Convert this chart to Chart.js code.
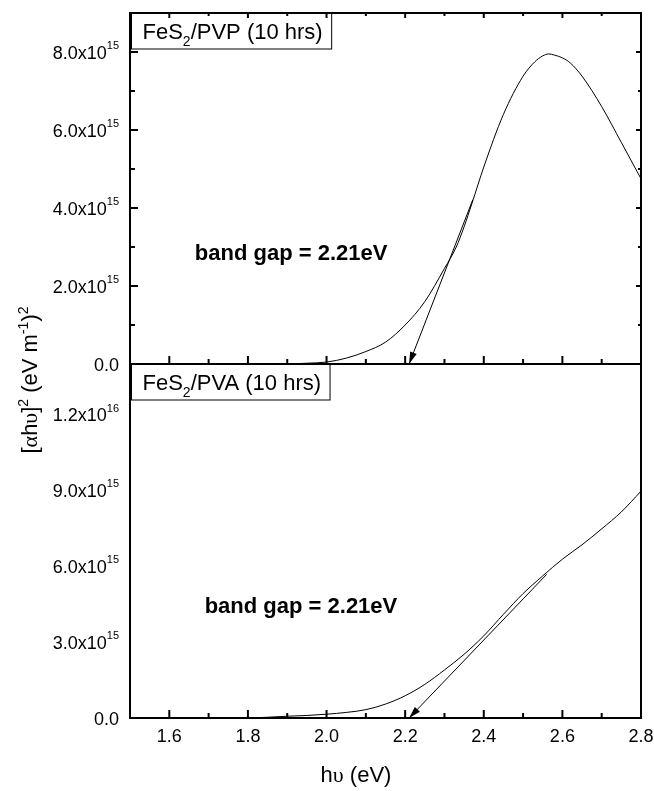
<!DOCTYPE html>
<html>
<head>
<meta charset="utf-8">
<script src="https://cdn.jsdelivr.net/npm/chart.js@4"></script>
<style>
  html, body { margin: 0; padding: 0; background: #fff; }
</style>
</head>
<body>
<canvas id="bandGap" width="654" height="791"></canvas>
<script>
// FeS2/PVP (10 hrs)
const energiaPVP = [1.90, 1.95, 2.00, 2.05, 2.10, 2.15, 2.20, 2.25, 2.30, 2.33, 2.35, 2.37, 2.40, 2.45, 2.50, 2.53, 2.55, 2.565, 2.58, 2.60, 2.62, 2.65, 2.70, 2.75, 2.80];
const alfaPVP = [0, 0.02e15, 0.05e15, 0.15e15, 0.32e15, 0.56e15, 1.00e15, 1.60e15, 2.45e15, 3.00e15, 3.52e15, 4.12e15, 5.05e15, 6.40e15, 7.38e15, 7.75e15, 7.90e15, 7.95e15, 7.92e15, 7.85e15, 7.72e15, 7.38e15, 6.60e15, 5.68e15, 4.75e15];

// FeS2/PVA (10 hrs)
const energiaPVA = [1.80, 1.85, 1.90, 1.95, 2.00, 2.05, 2.10, 2.15, 2.20, 2.25, 2.30, 2.35, 2.40, 2.45, 2.50, 2.55, 2.60, 2.65, 2.70, 2.75, 2.80];
const alfaPVA = [0, 0.03e15, 0.07e15, 0.10e15, 0.15e15, 0.22e15, 0.33e15, 0.55e15, 0.88e15, 1.33e15, 1.90e15, 2.52e15, 3.25e15, 4.10e15, 4.92e15, 5.62e15, 6.28e15, 6.85e15, 7.48e15, 8.15e15, 8.97e15];

// retas tangentes (extrapolacao ate o eixo)
const tangentePVP_x = [2.372, 2.21];
const tangentePVP_y = [4.21e15, 0];
const tangentePVA_x = [2.56, 2.21];
const tangentePVA_y = [5.68e15, 0];

// marcas com rotulo
const marcasX = [1.6, 1.8, 2.0, 2.2, 2.4, 2.6, 2.8];
const marcasPVP = [0, 2e15, 4e15, 6e15, 8e15];
const marcasPVA = [0, 3e15, 6e15, 9e15, 1.2e16];

const textoGap = 'band gap = 2.21eV';
const posGapPVP = [1.665, 2.66e15];
const posGapPVA = [1.69, 4.17e15];

const SANS = '"Liberation Sans", Arial, sans-serif';
const SERIF = '"Liberation Serif", "Times New Roman", serif';

function pontos(xs, ys) {
  return xs.map((x, i) => ({ x: x, y: ys[i] }));
}

function quase(a, b, tol) {
  return Math.abs(a - b) <= tol;
}

function naLista(v, lista) {
  return lista.some(m => quase(v, m, Math.abs(m) * 1e-6 + 1e-9));
}

// desenha pedacos de texto com fontes / deslocamentos diferentes
function larguraRica(ctx, partes) {
  let w = 0;
  for (const p of partes) { ctx.font = p.f; w += ctx.measureText(p.t).width; }
  return w;
}
function desenharRico(ctx, partes, x, y) {
  let cx = x;
  for (const p of partes) {
    ctx.font = p.f;
    ctx.fillText(p.t, cx, y + (p.dy || 0));
    cx += ctx.measureText(p.t).width;
  }
}

function rotuloY(v) {
  if (v === 0) return [{ t: '0.0', f: '18px ' + SANS }];
  const e = Math.floor(Math.log10(v) + 1e-9);
  const m = (v / Math.pow(10, e)).toFixed(1);
  return [
    { t: m + 'x10', f: '18px ' + SANS },
    { t: String(e), f: '11px ' + SANS, dy: -9.5 }
  ];
}

function seta(ctx, xScale, yScale, xs, ys) {
  const n = xs.length;
  const x0 = xScale.getPixelForValue(xs[n - 2]), y0 = yScale.getPixelForValue(ys[n - 2]);
  const x1 = xScale.getPixelForValue(xs[n - 1]), y1 = yScale.getPixelForValue(ys[n - 1]);
  const ang = Math.atan2(y1 - y0, x1 - x0);
  const L = 12, W = 3.5;
  const bx = x1 - L * Math.cos(ang), by = y1 - L * Math.sin(ang);
  ctx.beginPath();
  ctx.moveTo(x1, y1);
  ctx.lineTo(bx + W * Math.sin(ang), by - W * Math.cos(ang));
  ctx.lineTo(bx - W * Math.sin(ang), by + W * Math.cos(ang));
  ctx.closePath();
  ctx.fill();
}

function linha(ctx, x0, y0, x1, y1) {
  ctx.beginPath();
  ctx.moveTo(x0, y0);
  ctx.lineTo(x1, y1);
  ctx.stroke();
}

function caixaLegenda(ctx, area, topo, nome) {
  const partes = [
    { t: 'FeS', f: '22px ' + SANS },
    { t: '2', f: '14px ' + SANS, dy: 7 },
    { t: '/' + nome + ' (10 hrs)', f: '22px ' + SANS }
  ];
  const x = area.left + 12.5;
  const w = larguraRica(ctx, partes);
  ctx.fillStyle = '#fff';
  ctx.fillRect(area.left + 1.5, topo, x + w + 9 - area.left - 1.5, 36);
  ctx.fillStyle = '#000';
  ctx.lineWidth = 1;
  ctx.strokeRect(area.left + 1.5, topo + 0.5, x + w + 9 - area.left - 1.5, 35.5);
  ctx.textAlign = 'left';
  ctx.textBaseline = 'alphabetic';
  desenharRico(ctx, partes, x, topo + 25.5);
}

// eixos, marcas, rotulos e anotacoes
const extras = {
  id: 'extras',
  afterDatasetsDraw(chart) {
    const { ctx, chartArea: area, scales } = chart;
    const x = scales.x, yTop = scales.yPVP, yBot = scales.yPVA;
    const meio = yTop.bottom;
    ctx.save();
    ctx.strokeStyle = '#000';
    ctx.fillStyle = '#000';

    // setas das tangentes
    seta(ctx, x, yTop, tangentePVP_x, tangentePVP_y);
    seta(ctx, x, yBot, tangentePVA_x, tangentePVA_y);

    // caixas com o nome da amostra
    caixaLegenda(ctx, area, area.top, 'PVP');
    caixaLegenda(ctx, area, meio, 'PVA');

    // moldura
    ctx.lineWidth = 2;
    ctx.strokeRect(area.left, area.top, area.right - area.left, area.bottom - area.top);
    linha(ctx, area.left, meio, area.right, meio);

    // marcas do eixo x
    for (const t of x.ticks) {
      const px = x.getPixelForValue(t.value);
      const maior = naLista(t.value, marcasX);
      const len = maior ? 8 : 5;
      linha(ctx, px, meio, px, meio - len);
      linha(ctx, px, area.bottom, px, area.bottom - len);
      linha(ctx, px, area.top, px, area.top + (maior ? 5 : 3));
    }

    // marcas dos eixos y
    const paineis = [[yTop, marcasPVP, 1e15], [yBot, marcasPVA, 1.5e15]];
    ctx.textAlign = 'left';
    ctx.textBaseline = 'alphabetic';
    for (const [s, marcas, passo] of paineis) {
      for (const t of s.ticks) {
        const r = t.value / passo;
        if (!quase(r, Math.round(r), 1e-6)) continue;
        const py = s.getPixelForValue(t.value);
        const maior = naLista(t.value, marcas);
        linha(ctx, area.left, py, area.left + (maior ? 8 : 5), py);
        linha(ctx, area.right, py, area.right - (maior ? 5 : 3), py);
      }
      for (const v of marcas) {
        const py = s.getPixelForValue(v);
        const partes = rotuloY(v);
        const w = larguraRica(ctx, partes);
        desenharRico(ctx, partes, 119 - w, py + 6.5);
      }
    }

    // texto do band gap
    ctx.font = 'bold 22px ' + SANS;
    ctx.fillText(textoGap, x.getPixelForValue(posGapPVP[0]), yTop.getPixelForValue(posGapPVP[1]));
    ctx.fillText(textoGap, x.getPixelForValue(posGapPVA[0]), yBot.getPixelForValue(posGapPVA[1]));

    // titulo do eixo x
    const tituloX = [
      { t: 'h', f: '22px ' + SANS },
      { t: 'υ', f: '22px ' + SERIF },
      { t: ' (eV)', f: '22px ' + SANS }
    ];
    desenharRico(ctx, tituloX, 356 - larguraRica(ctx, tituloX) / 2, 782);

    // titulo do eixo y
    const tituloY = [
      { t: '[', f: '22px ' + SANS },
      { t: 'α', f: '22px ' + SERIF },
      { t: 'h', f: '22px ' + SANS },
      { t: 'υ', f: '22px ' + SERIF },
      { t: ']', f: '22px ' + SANS },
      { t: '2', f: '14px ' + SANS, dy: -9 },
      { t: ' (eV m', f: '22px ' + SANS },
      { t: '-1', f: '14px ' + SANS, dy: -9 },
      { t: ')', f: '22px ' + SANS },
      { t: '2', f: '14px ' + SANS, dy: -9 }
    ];
    ctx.translate(37, 380);
    ctx.rotate(-Math.PI / 2);
    desenharRico(ctx, tituloY, -larguraRica(ctx, tituloY) / 2, 0);
    ctx.restore();
  }
};

const semGrade = { display: false, drawTicks: false };
const curva = { cubicInterpolationMode: 'monotone' };

const config = {
  type: 'line',
  data: {
    datasets: [
      { data: pontos(energiaPVP, alfaPVP), yAxisID: 'yPVP', ...curva },
      { data: pontos(tangentePVP_x, tangentePVP_y), yAxisID: 'yPVP' },
      { data: pontos(energiaPVA, alfaPVA), yAxisID: 'yPVA', ...curva },
      { data: pontos(tangentePVA_x, tangentePVA_y), yAxisID: 'yPVA' }
    ]
  },
  options: {
    responsive: false,
    animation: false,
    devicePixelRatio: 1,
    layout: { padding: { left: 0, right: 13, top: 13, bottom: 0 } },
    elements: {
      point: { radius: 0 },
      line: { borderColor: '#000', borderWidth: 1, tension: 0, fill: false }
    },
    plugins: { legend: { display: false }, tooltip: { enabled: false } },
    scales: {
      x: {
        type: 'linear', min: 1.5, max: 2.8,
        grid: semGrade, border: { display: false },
        ticks: {
          stepSize: 0.1, autoSkip: false, maxRotation: 0, padding: 8,
          color: '#000', font: { family: SANS, size: 18 },
          callback: v => naLista(v, marcasX) ? v.toFixed(1) : ''
        },
        afterFit: s => { s.height = 73; s.paddingLeft = 0; s.paddingRight = 0; }
      },
      yPVA: {
        type: 'linear', position: 'left', stack: 'paineis', stackWeight: 354,
        min: 0, max: 1.4e16,
        grid: semGrade, border: { display: false },
        ticks: { display: false, stepSize: 1.5e15 },
        afterFit: s => { s.width = 130; }
      },
      yPVP: {
        type: 'linear', position: 'left', stack: 'paineis', stackWeight: 351,
        min: 0, max: 9e15,
        grid: semGrade, border: { display: false },
        ticks: { display: false, stepSize: 1e15 },
        afterFit: s => { s.width = 130; }
      }
    }
  },
  plugins: [extras]
};

const ctx = document.getElementById('bandGap');
if (ctx) {
  new Chart(ctx, config);
}
</script>
</body>
</html>
